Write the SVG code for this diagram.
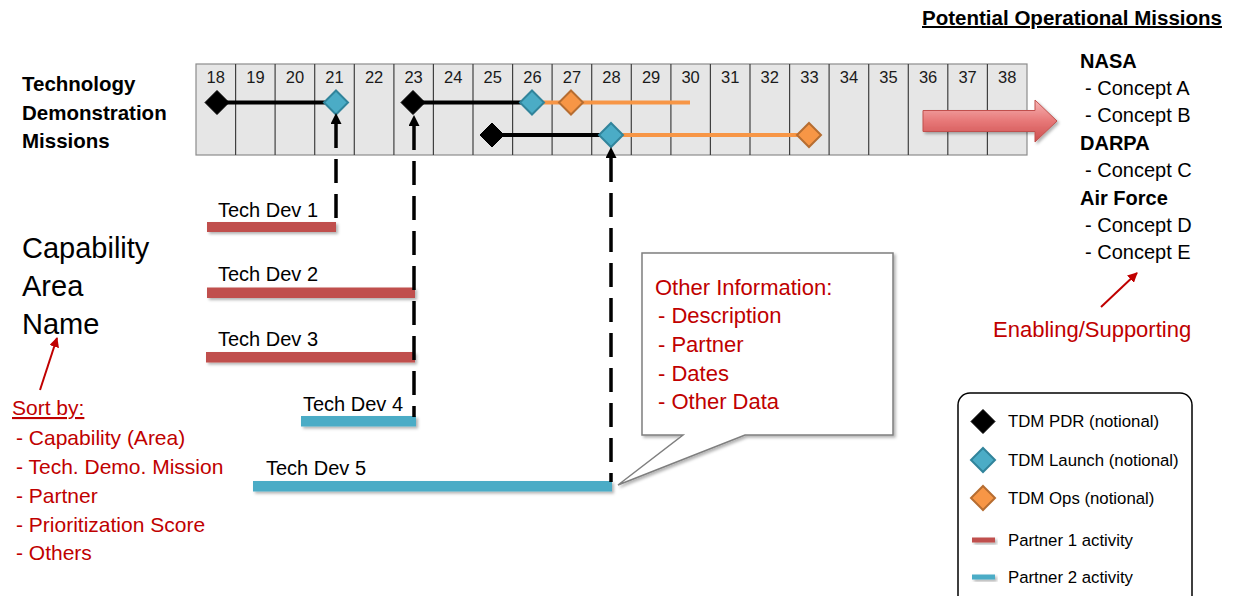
<svg xmlns="http://www.w3.org/2000/svg" width="1233" height="596" viewBox="0 0 1233 596">
<style>
  text { font-family: "Liberation Sans", Arial, sans-serif; }
  .num { font-size: 16.5px; fill: #1a1a1a; text-anchor: middle; }
  .bold { font-weight: bold; fill: #000; }
  .blk { fill: #000; }
  .red { fill: #C00000; }
  .grid { fill: #E6E6E6; stroke: #8C8C8C; stroke-width: 1.2; }
  .gl { stroke: #404040; stroke-width: 1.2; }
  .pdr { fill: #000; stroke: #000; stroke-width: 1; }
  .launch { fill: #4BACC6; stroke: #31849B; stroke-width: 2; }
  .ops { fill: #F79646; stroke: #B66D31; stroke-width: 2; }
  .blkline { stroke: #000; stroke-width: 4; }
  .orgline { stroke: #F79646; stroke-width: 4; }
  .p1 { fill: #C0504D; }
  .p2 { fill: #4BACC6; }
  .dash { fill: none; stroke: #000; stroke-width: 3.5; stroke-dasharray: 24 11; }
  .redarrow { stroke: #C00000; stroke-width: 2; fill: none; }
  .leg { font-size: 16.8px; fill: #000; }
</style>
<defs>
  <marker id="blackhead" markerUnits="userSpaceOnUse" markerWidth="11" markerHeight="11" refX="0" refY="5" orient="auto-start-reverse" viewBox="0 0 10 10">
    <path d="M0,0 L10,5 L0,10 z" fill="#000"/>
  </marker>
  <marker id="redhead" markerUnits="userSpaceOnUse" markerWidth="10" markerHeight="10" refX="9" refY="5" orient="auto" viewBox="0 0 10 10">
    <path d="M0,0 L10,5 L0,10 z" fill="#C00000"/>
  </marker>
  <linearGradient id="blockgrad" x1="0" y1="0" x2="0" y2="1">
    <stop offset="0" stop-color="#F6B4B4"/>
    <stop offset="0.5" stop-color="#E77878"/>
    <stop offset="1" stop-color="#CC4E4E"/>
  </linearGradient>
  <filter id="shadow" x="-10%" y="-50%" width="120%" height="200%">
    <feDropShadow dx="2" dy="2" stdDeviation="1.5" flood-color="#000" flood-opacity="0.3"/>
  </filter>
</defs>

<!-- Timeline grid -->
<g id="timeline">
  <rect class="grid" x="196" y="64" width="831" height="91"/>
  <line class="gl" x1="235.6" y1="64" x2="235.6" y2="155"/>
  <line class="gl" x1="275.1" y1="64" x2="275.1" y2="155"/>
  <line class="gl" x1="314.7" y1="64" x2="314.7" y2="155"/>
  <line class="gl" x1="354.3" y1="64" x2="354.3" y2="155"/>
  <line class="gl" x1="393.9" y1="64" x2="393.9" y2="155"/>
  <line class="gl" x1="433.4" y1="64" x2="433.4" y2="155"/>
  <line class="gl" x1="473.0" y1="64" x2="473.0" y2="155"/>
  <line class="gl" x1="512.6" y1="64" x2="512.6" y2="155"/>
  <line class="gl" x1="552.1" y1="64" x2="552.1" y2="155"/>
  <line class="gl" x1="591.7" y1="64" x2="591.7" y2="155"/>
  <line class="gl" x1="631.3" y1="64" x2="631.3" y2="155"/>
  <line class="gl" x1="670.9" y1="64" x2="670.9" y2="155"/>
  <line class="gl" x1="710.4" y1="64" x2="710.4" y2="155"/>
  <line class="gl" x1="750.0" y1="64" x2="750.0" y2="155"/>
  <line class="gl" x1="789.6" y1="64" x2="789.6" y2="155"/>
  <line class="gl" x1="829.1" y1="64" x2="829.1" y2="155"/>
  <line class="gl" x1="868.7" y1="64" x2="868.7" y2="155"/>
  <line class="gl" x1="908.3" y1="64" x2="908.3" y2="155"/>
  <line class="gl" x1="947.8" y1="64" x2="947.8" y2="155"/>
  <line class="gl" x1="987.4" y1="64" x2="987.4" y2="155"/>
  <text class="num" x="215.8" y="83">18</text>
  <text class="num" x="255.4" y="83">19</text>
  <text class="num" x="294.9" y="83">20</text>
  <text class="num" x="334.5" y="83">21</text>
  <text class="num" x="374.1" y="83">22</text>
  <text class="num" x="413.6" y="83">23</text>
  <text class="num" x="453.2" y="83">24</text>
  <text class="num" x="492.8" y="83">25</text>
  <text class="num" x="532.4" y="83">26</text>
  <text class="num" x="571.9" y="83">27</text>
  <text class="num" x="611.5" y="83">28</text>
  <text class="num" x="651.1" y="83">29</text>
  <text class="num" x="690.6" y="83">30</text>
  <text class="num" x="730.2" y="83">31</text>
  <text class="num" x="769.8" y="83">32</text>
  <text class="num" x="809.4" y="83">33</text>
  <text class="num" x="848.9" y="83">34</text>
  <text class="num" x="888.5" y="83">35</text>
  <text class="num" x="928.1" y="83">36</text>
  <text class="num" x="967.6" y="83">37</text>
  <text class="num" x="1007.2" y="83">38</text>
</g>

<!-- Mission rows -->
<g id="mission-row1a">
  <line class="blkline" x1="217" y1="102.5" x2="336" y2="102.5"/>
  <path class="pdr" d="M217,90.5 L229,102.5 L217,114.5 L205,102.5 Z"/>
  <path class="launch" d="M336,90.5 L348,102.5 L336,114.5 L324,102.5 Z"/>
</g>
<g id="mission-row1b">
  <line class="blkline" x1="413" y1="102.5" x2="532" y2="102.5"/>
  <line class="orgline" x1="532" y1="102.5" x2="690" y2="102.5"/>
  <path class="pdr" d="M413,90.5 L425,102.5 L413,114.5 L401,102.5 Z"/>
  <path class="launch" d="M532,90.5 L544,102.5 L532,114.5 L520,102.5 Z"/>
  <path class="ops" d="M571,90.5 L583,102.5 L571,114.5 L559,102.5 Z"/>
</g>
<g id="mission-row2">
  <line class="blkline" x1="492" y1="135" x2="611" y2="135"/>
  <line class="orgline" x1="611" y1="135" x2="809" y2="135"/>
  <path class="pdr" d="M492,123 L504,135 L492,147 L480,135 Z"/>
  <path class="launch" d="M611,123 L623,135 L611,147 L599,135 Z"/>
  <path class="ops" d="M809,123 L821,135 L809,147 L797,135 Z"/>
</g>

<!-- Block arrow to operational missions -->
<g id="block-arrow">
  <path d="M923,110.5 H1035 V100 L1057,121 L1035,142 V131.5 H923 Z" fill="url(#blockgrad)" stroke="#C0504D" stroke-width="1" filter="url(#shadow)"/>
</g>

<!-- Left labels -->
<g id="tdm-label">
  <text class="bold" font-size="20.5" x="22" y="91">Technology</text>
  <text class="bold" font-size="20.5" x="22" y="120">Demonstration</text>
  <text class="bold" font-size="20.5" x="22" y="148">Missions</text>
</g>
<g id="capability-label">
  <text class="blk" font-size="29" x="22" y="258">Capability</text>
  <text class="blk" font-size="29" x="22" y="296">Area</text>
  <text class="blk" font-size="29" x="22" y="334">Name</text>
</g>
<g id="sort-by">
  <text class="red" font-size="21" x="12" y="415" text-decoration="underline">Sort by:</text>
  <text class="red" font-size="21" x="16" y="445">- Capability (Area)</text>
  <text class="red" font-size="21" x="16" y="474">- Tech. Demo. Mission</text>
  <text class="red" font-size="21" x="16" y="503">- Partner</text>
  <text class="red" font-size="21" x="16" y="532">- Prioritization Score</text>
  <text class="red" font-size="21" x="16" y="560">- Others</text>
</g>

<!-- Tech dev bars -->
<g id="techdev1">
  <rect class="p1" x="207" y="222" width="129" height="10" filter="url(#shadow)"/>
  <text class="blk" font-size="20" x="218" y="217">Tech Dev 1</text>
</g>
<g id="techdev2">
  <rect class="p1" x="207" y="287.5" width="208" height="10.5" filter="url(#shadow)"/>
  <text class="blk" font-size="20" x="218" y="281">Tech Dev 2</text>
</g>
<g id="techdev3">
  <rect class="p1" x="206" y="352" width="209" height="10.5" filter="url(#shadow)"/>
  <text class="blk" font-size="20" x="218" y="346">Tech Dev 3</text>
</g>
<g id="techdev4">
  <rect class="p2" x="301" y="416" width="115" height="10.5" filter="url(#shadow)"/>
  <text class="blk" font-size="20" x="303" y="411">Tech Dev 4</text>
</g>
<g id="techdev5">
  <rect class="p2" x="253" y="481" width="359" height="10.5" filter="url(#shadow)"/>
  <text class="blk" font-size="20" x="266" y="475">Tech Dev 5</text>
</g>

<!-- Callout -->
<g id="callout">
  <path d="M642,253 H893 V435 H745 L618,485 L683,435 H642 Z" fill="#FFFFFF" stroke="#7F7F7F" stroke-width="1.5" filter="url(#shadow)"/>
  <text class="red" font-size="22" x="655" y="295">Other Information:</text>
  <text class="red" font-size="22" x="658" y="323">- Description</text>
  <text class="red" font-size="22" x="658" y="352">- Partner</text>
  <text class="red" font-size="22" x="658" y="381">- Dates</text>
  <text class="red" font-size="22" x="658" y="409">- Other Data</text>
</g>

<!-- Right labels -->
<g id="operational-missions">
  <text class="bold" font-size="20" x="922" y="25" text-decoration="underline" textLength="300" lengthAdjust="spacingAndGlyphs">Potential Operational Missions</text>
  <text class="bold" font-size="20" x="1080" y="68">NASA</text>
  <text class="blk" font-size="20" x="1085" y="95">- Concept A</text>
  <text class="blk" font-size="20" x="1085" y="122">- Concept B</text>
  <text class="bold" font-size="20" x="1080" y="150">DARPA</text>
  <text class="blk" font-size="20" x="1085" y="177">- Concept C</text>
  <text class="bold" font-size="20" x="1080" y="205">Air Force</text>
  <text class="blk" font-size="20" x="1085" y="232">- Concept D</text>
  <text class="blk" font-size="20" x="1085" y="259">- Concept E</text>
</g>
<g id="enabling">
  <text class="red" font-size="22" x="993" y="337">Enabling/Supporting</text>
</g>

<!-- Legend -->
<g id="legend">
  <rect x="958" y="393" width="234" height="230" rx="12" ry="12" fill="#FFFFFF" stroke="#000" stroke-width="1.5"/>
  <path class="pdr" d="M983,409.5 L995,421.5 L983,433.5 L971,421.5 Z"/>
  <text class="leg" x="1008" y="427">TDM PDR (notional)</text>
  <path class="launch" d="M983,448 L995,460 L983,472 L971,460 Z"/>
  <text class="leg" x="1008" y="466">TDM Launch (notional)</text>
  <path class="ops" d="M983,486 L995,498 L983,510 L971,498 Z"/>
  <text class="leg" x="1008" y="504">TDM Ops (notional)</text>
  <rect class="p1" x="972" y="537.5" width="23" height="5" filter="url(#shadow)"/>
  <text class="leg" x="1008" y="546">Partner 1 activity</text>
  <rect class="p2" x="972" y="574.5" width="23" height="5" filter="url(#shadow)"/>
  <text class="leg" x="1008" y="583">Partner 2 activity</text>
</g>

<!-- Connectors -->
<g id="connectors">
  <path class="dash" d="M336,124 V222" marker-start="url(#blackhead)"/>
  <path class="dash" d="M414,126 V417" marker-start="url(#blackhead)"/>
  <path class="dash" d="M611,158 V482" marker-start="url(#blackhead)"/>
  <path class="redarrow" d="M40,390 L57,338" marker-end="url(#redhead)"/>
  <path class="redarrow" d="M1101,307 L1137,273" marker-end="url(#redhead)"/>
</g>
</svg>
